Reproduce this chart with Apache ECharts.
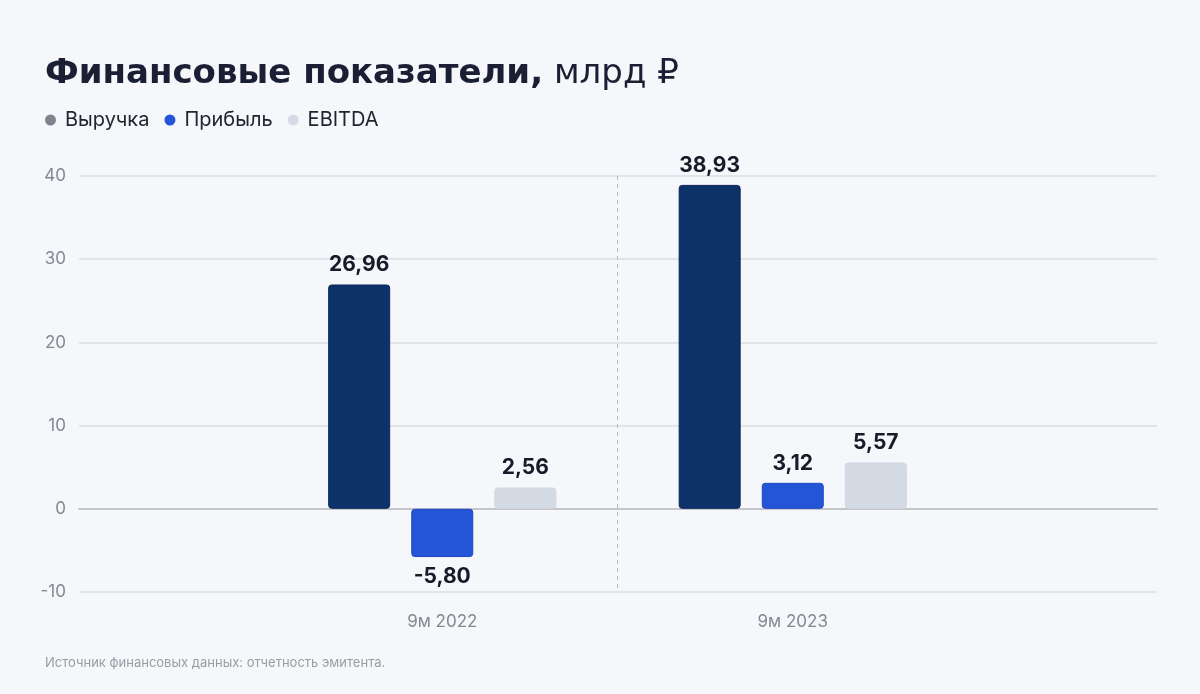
<!DOCTYPE html>
<html><head><meta charset="utf-8">
<script src="https://cdn.jsdelivr.net/npm/echarts@6/dist/echarts.min.js"></script>
<style>html,body{margin:0;padding:0;background:#f6f7fb;}#c{width:1200px;height:694px;}</style>
</head><body><div id="c"></div>
<script>
const categories = ['9м 2022', '9м 2023'];
const seriesNames = ['Выручка', 'Прибыль', 'EBITDA'];
const revenue = [26.96, 38.93];
const profit = [-5.80, 3.12];
const ebitda = [2.56, 5.57];
const yMin = -10, yMax = 40, yStep = 10;

const chart = echarts.init(document.getElementById('c'));
const FONT = 'Inter, "Noto Sans", sans-serif';
const TFONT = '"DejaVu Sans", Inter, sans-serif';
const legendColors = ['#80848c', '#2455d6', '#d5dbe4'];
const colors = ['#0d3269', '#2455d6', '#d5dbe4'];
const borders = ['#0a2858', '#1d47c4', '#d0d6e0'];
function mk(vals, i){
  return vals.map(v => {
    const item = {value: v, itemStyle: {color: colors[i], borderColor: borders[i]}};
    if (v < 0) item.label = {position: 'bottom'};
    return item;
  });
}
const seriesData = [revenue, profit, ebitda];
chart.setOption({
  backgroundColor: '#f6f7fb',
  textStyle: {fontFamily: FONT},
  title: [{
    left: 40, top: 52,
    text: '{b|Финансовые показатели,}{r| млрд ₽}',
    textStyle: {rich: {
      b: {fontSize: 34, fontWeight: 700, color: '#1b1f33', fontFamily: TFONT},
      r: {fontSize: 34, fontWeight: 400, color: '#1b1f33', fontFamily: TFONT}
    }}
  }, {
    left: 40, top: 652,
    text: 'Источник финансовых данных: отчетность эмитента.',
    textStyle: {fontSize: 13, fontWeight: 400, color: '#9a9ca3', fontFamily: FONT}
  }],
  legend: {
    left: 40, top: 105, icon: 'circle', itemWidth: 11, itemHeight: 11, itemGap: 15,
    textStyle: {fontSize: 20, color: '#22252e', fontFamily: FONT, padding: [0, 0, 0, 4]},
    data: seriesNames
  },
  grid: [
    {left: 79, right: 43, top: 176, bottom: 102},
    {left: 267, right: 232, top: 176, bottom: 102}
  ],
  xAxis: [{
    gridIndex: 0, type: 'value', min: 0, max: 1,
    axisLine: {show: true, onZero: true, lineStyle: {color: '#c4c6cc', width: 2}},
    axisTick: {show: false}, axisLabel: {show: false}, splitLine: {show: false}
  }, {
    gridIndex: 1, type: 'category', data: categories,
    axisLine: {show: false}, axisTick: {show: false},
    axisLabel: {fontSize: 17, color: '#858890', margin: 21, fontFamily: FONT},
    splitLine: {show: true, showMinLine: false, showMaxLine: false,
      lineStyle: {color: '#b5b8bf', type: [4, 4], width: 1}}
  }],
  yAxis: [{
    gridIndex: 0, type: 'value', min: yMin, max: yMax, interval: yStep,
    axisLine: {show: false}, axisTick: {show: false},
    axisLabel: {fontSize: 17, color: '#858890', margin: 13, fontFamily: FONT},
    splitLine: {lineStyle: {color: '#dcdee3', width: 1.5}}
  }, {
    gridIndex: 1, type: 'value', min: yMin, max: yMax, interval: yStep, show: false,
    splitLine: {show: false}
  }],
  series: seriesNames.map((n, i) => ({
    name: n, type: 'bar', xAxisIndex: 1, yAxisIndex: 1,
    data: mk(seriesData[i], i),
    barWidth: 62, barGap: '34%',
    itemStyle: {color: legendColors[i], borderWidth: 1, borderRadius: 3},
    label: {show: true, position: 'top', distance: 9, fontSize: 21, fontWeight: 700,
      color: '#171b28', fontFamily: FONT,
      formatter: p => p.value.toFixed(2).replace('.', ',')}
  }))
});
</script></body></html>
